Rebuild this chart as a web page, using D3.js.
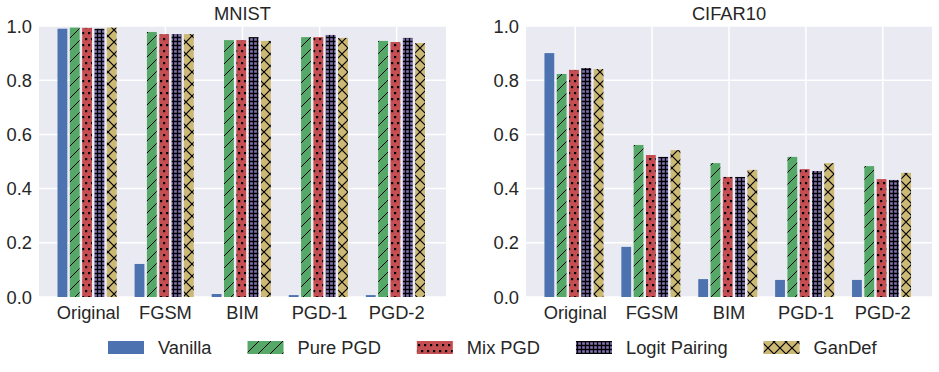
<!DOCTYPE html>
<html>
<head>
<meta charset="utf-8">
<script src="https://cdn.jsdelivr.net/npm/d3@7"></script>
<style>
  body { margin: 0; background: #fff; }
  svg { font-family: "Liberation Sans", Arial, sans-serif; }
  .tick-label { fill: #262626; font-size: 18.3px; }
  .title { fill: #262626; font-size: 18.3px; }
</style>
</head>
<body>
<div id="chart"></div>
<script>
// attack categories and defence methods
const categories = ["Original", "FGSM", "BIM", "PGD-1", "PGD-2"];
const methods = ["Vanilla", "Pure PGD", "Mix PGD", "Logit Pairing", "GanDef"];
const yTicks = [0.0, 0.2, 0.4, 0.6, 0.8, 1.0];

// MNIST accuracy
const mnistVanilla      = [0.990, 0.122, 0.011, 0.007, 0.007];
const mnistPurePGD      = [0.994, 0.978, 0.948, 0.959, 0.945];
const mnistMixPGD       = [0.993, 0.970, 0.948, 0.959, 0.941];
const mnistLogitPairing = [0.990, 0.970, 0.959, 0.967, 0.956];
const mnistGanDef       = [0.994, 0.970, 0.945, 0.956, 0.937];

// CIFAR10 accuracy
const cifarVanilla      = [0.900, 0.185, 0.066, 0.063, 0.063];
const cifarPurePGD      = [0.823, 0.561, 0.494, 0.517, 0.483];
const cifarMixPGD       = [0.838, 0.524, 0.443, 0.472, 0.435];
const cifarLogitPairing = [0.845, 0.517, 0.443, 0.465, 0.432];
const cifarGanDef       = [0.841, 0.542, 0.469, 0.494, 0.458];

const colors = ["#4C72B0", "#55A868", "#C44E52", "#8172B2", "#CCB974"];

const width = 939, height = 372;
const svg = d3.select("#chart").append("svg")
    .attr("width", width)
    .attr("height", height);

// hatch patterns (black marks over the bar colour)
const defs = svg.append("defs");

function makePattern(id, w, h, color, draw) {
  const p = defs.append("pattern")
      .attr("id", id)
      .attr("patternUnits", "userSpaceOnUse")
      .attr("width", w)
      .attr("height", h);
  p.append("rect").attr("width", w).attr("height", h).attr("fill", color);
  draw(p);
}

makePattern("hatch-0", 12, 12, colors[0], () => {});
makePattern("hatch-1", 12, 12, colors[1], p => {
  p.append("path")
      .attr("d", "M0,12 L12,0 M-3,3 L3,-3 M9,15 L15,9")
      .attr("stroke", "#000").attr("stroke-width", 1);
});
makePattern("hatch-2", 6, 12, colors[2], p => {
  p.append("rect").attr("x", 1).attr("y", 2).attr("width", 2.2).attr("height", 2.2).attr("fill", "#000");
  p.append("rect").attr("x", 4).attr("y", 8).attr("width", 2.2).attr("height", 2.2).attr("fill", "#000");
  p.append("rect").attr("x", -2).attr("y", 8).attr("width", 2.2).attr("height", 2.2).attr("fill", "#000");
});
makePattern("hatch-3", 4, 4, colors[3], p => {
  p.append("path")
      .attr("d", "M0,1.5 L4,1.5 M1.5,0 L1.5,4")
      .attr("stroke", "#000").attr("stroke-width", 1.3);
});
makePattern("hatch-4", 12, 12, colors[4], p => {
  p.append("path")
      .attr("d", "M0,0 L12,12 M0,12 L12,0")
      .attr("stroke", "#000").attr("stroke-width", 1.2);
});

const y = d3.scaleLinear().domain([0, 1]).range([297, 26]);

function drawPanel(left, right, title, series) {
  const x = d3.scaleLinear().domain([-0.64, 4.64]).range([left, right]);
  const g = svg.append("g");

  g.append("rect")
      .attr("x", left).attr("y", y(1))
      .attr("width", right - left).attr("height", y(0) - y(1))
      .attr("fill", "#EAEAF2");

  // grid
  g.selectAll(".hgrid").data(yTicks).enter().append("line")
      .attr("x1", left).attr("x2", right)
      .attr("y1", d => y(d)).attr("y2", d => y(d))
      .attr("stroke", "#fff").attr("stroke-width", 1.5);
  g.selectAll(".vgrid").data(categories).enter().append("line")
      .attr("x1", (d, i) => x(i)).attr("x2", (d, i) => x(i))
      .attr("y1", y(1)).attr("y2", y(0))
      .attr("stroke", "#fff").attr("stroke-width", 1.5);

  // bars
  const bw = 0.16;
  series.forEach((vals, j) => {
    g.selectAll(".bar-" + j).data(vals).enter().append("rect")
        .attr("x", (d, i) => x(i + (j - 2) * bw - bw / 2))
        .attr("width", x(bw) - x(0) - 2.5)
        .attr("y", d => y(d))
        .attr("height", d => y(0) - y(d))
        .attr("fill", "url(#hatch-" + j + ")");
  });

  // y tick labels
  g.selectAll(".ylab").data(yTicks).enter().append("text")
      .attr("class", "tick-label")
      .attr("x", left - 7)
      .attr("y", d => y(d))
      .attr("dy", "0.36em")
      .attr("text-anchor", "end")
      .text(d => d.toFixed(1));

  // x tick labels
  g.selectAll(".xlab").data(categories).enter().append("text")
      .attr("class", "tick-label")
      .attr("x", (d, i) => x(i))
      .attr("y", 319)
      .attr("text-anchor", "middle")
      .text(d => d);

  g.append("text")
      .attr("class", "title")
      .attr("x", (left + right) / 2)
      .attr("y", 20)
      .attr("text-anchor", "middle")
      .text(title);
}

drawPanel(39, 446, "MNIST",
  [mnistVanilla, mnistPurePGD, mnistMixPGD, mnistLogitPairing, mnistGanDef]);
drawPanel(526, 932, "CIFAR10",
  [cifarVanilla, cifarPurePGD, cifarMixPGD, cifarLogitPairing, cifarGanDef]);

// legend: patch, gap, label, column spacing
const legend = svg.append("g");
let lx = 108;
methods.forEach((m, j) => {
  legend.append("rect")
      .attr("x", lx).attr("y", 341)
      .attr("width", 36).attr("height", 13)
      .attr("fill", "url(#hatch-" + j + ")");
  const t = legend.append("text")
      .attr("class", "tick-label")
      .attr("x", lx + 50)
      .attr("y", 354)
      .text(m);
  lx += 50 + t.node().getComputedTextLength() + 36;
});
</script>
</body>
</html>
